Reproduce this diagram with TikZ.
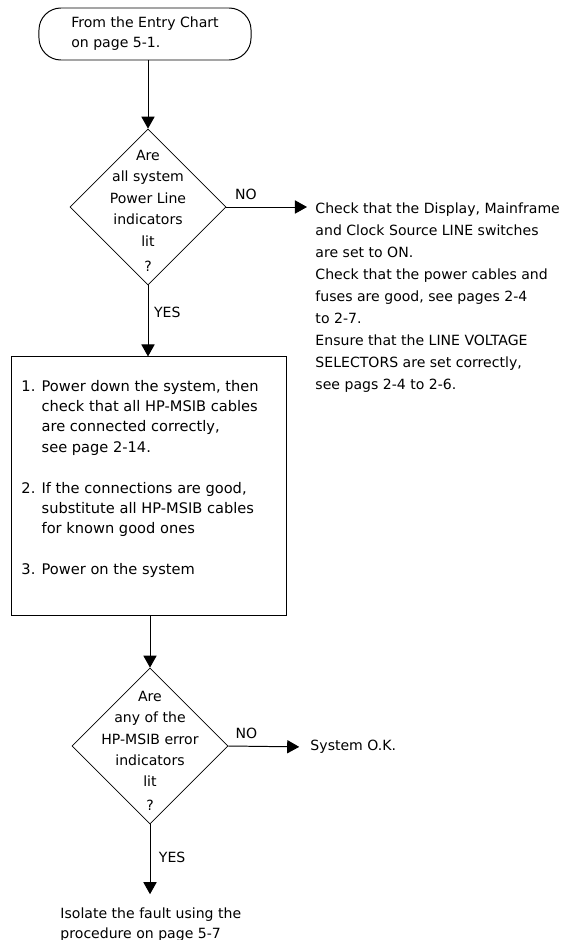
\documentclass[tikz,border=0pt]{standalone}
\usepackage{fontspec}
\setmainfont{DejaVu Sans}
\usetikzlibrary{shapes.geometric,arrows.meta}

\tikzset{
  startstop/.style={draw, rounded corners=0.55cm, minimum width=5.3cm, minimum height=1.3cm,
    align=left, font=\fontsize{10}{14.2}\selectfont},
  decision/.style={draw, diamond, minimum width=3.9cm, minimum height=3.9cm, inner sep=0pt, line width=0.5pt},
  qtext/.style={align=center, inner sep=0pt, font=\fontsize{10}{15.2}\selectfont},
  procbox/.style={draw, minimum width=6.85cm, minimum height=6.45cm},
  notes/.style={align=left, inner sep=0pt, font=\fontsize{10}{15.6}\selectfont},
  branch/.style={inner sep=0pt, font=\fontsize{10}{12}\selectfont},
}

\begin{document}
\begin{tikzpicture}[x=0.025cm, y=-0.025cm, line width=0.7pt, >={Triangle[length=0.3cm, width=0.33cm]}]
  \useasboundingbox (0,0) rectangle (563,940);

  % 1. Entry terminal and first question
  \node[startstop] (entry) at (145,34) {From the Entry Chart\\on page 5-1.};
  \node[decision] (q1) at (148,207) {};
  \node[qtext] (q1text) at (148,211) {Are\\all system\\Power Line\\indicators\\lit\\[3pt]?};

  % 2. NO branch: checks on the right
  \node[notes, anchor=north west] (check) at (315,202.5) {Check that the Display, Mainframe\\
    and Clock Source LINE switches\\are set to ON.\\Check that the power cables and\\
    fuses are good, see pages 2-4\\to 2-7.\\Ensure that the LINE VOLTAGE\\
    SELECTORS are set correctly,\\see pags 2-4 to 2-6.};

  % 3. YES branch: the three steps
  \node[procbox] (steps) at (149,486) {};
  \node[notes, anchor=north west, font=\fontsize{10.4}{14.5}\selectfont] (stepstext) at (21,379.5)
    {1. Power down the system, then\\\phantom{1. }check that all HP-MSIB cables\\
     \phantom{1. }are connected correctly,\\\phantom{1. }see page 2-14.\\[14.5pt]
     2. If the connections are good,\\\phantom{2. }substitute all HP-MSIB cables\\
     \phantom{2. }for known good ones\\[14.5pt]
     3. Power on the system};

  % 4. Second question and its ends
  \node[decision] (q2) at (150,746) {};
  \node[qtext] (q2text) at (150,751) {Are\\any of the\\HP-MSIB error\\indicators\\lit\\[2pt]?};
  \node[branch, anchor=west] (ok) at (310,747) {System O.K.};
  \node[notes, anchor=north west, font=\fontsize{10}{14.2}\selectfont] (isolate) at (60,907)
    {Isolate the fault using the\\procedure on page 5-7};

  % 5. Connectors
  \draw[->] (entry.south -| q1.north) -- (q1.north);
  \draw[->, shorten >=0.2cm] (q1.east) -- (q1.east -| check.west)
    node[branch, pos=0.22, above=5pt] {NO};
  \draw[->] (q1.south) -- (q1.south |- steps.north)
    node[branch, pos=0.38, right=4pt] {YES};
  \draw[->] (steps.south -| q2.north) -- (q2.north);
  \draw[->, shorten >=0.27cm] (q2.east) -- (ok.west)
    node[branch, pos=0.22, above=5pt] {NO};
  \draw[->, shorten >=0.32cm] (q2.south) -- (q2.south |- isolate.north)
    node[branch, pos=0.4, right=6pt] {YES};
\end{tikzpicture}
\end{document}
